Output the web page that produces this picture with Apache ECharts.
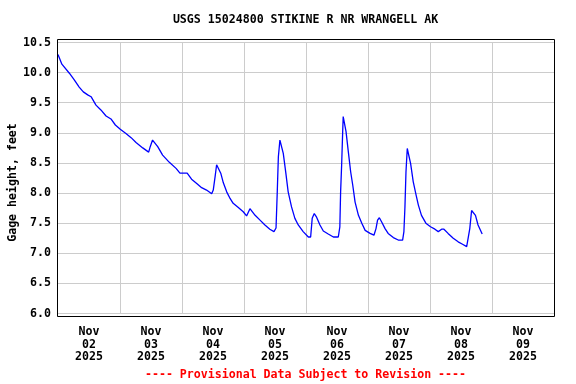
<!DOCTYPE html>
<html>
<head>
<meta charset="utf-8">
<script src="https://cdn.jsdelivr.net/npm/echarts@6/dist/echarts.min.js"></script>
<style>
html,body{margin:0;padding:0;background:#fff;}
#chart{width:576px;height:384px;}
</style>
</head>
<body>
<div id="chart"></div>
<script>
// Hours since 2025-11-02 00:00 (local)
var hours = [0,1.5,4.4,6.3,8.2,9.8,11.5,12.8,14.7,16.6,18.6,20.5,22.2,24.1,26.3,28.3,30.2,32.8,35.1,35.7,36.6,37.2,38.6,40.5,43.1,45.7,47.2,50.0,51.7,53.7,55.6,57.5,59.5,60.1,60.8,61.4,62.0,63.0,64.0,65.3,66.6,67.8,69.8,71.7,73.0,74.3,75.0,76.3,78.2,80.1,82.0,83.6,84.4,84.9,85.3,85.9,86.4,87.2,88.2,89.1,90.4,91.7,93.0,94.9,96.9,97.8,98.4,99.2,100.1,101.4,102.7,104.6,106.6,108.5,109.1,109.4,109.8,110.2,110.4,110.9,111.5,112.4,113.3,114.1,115.0,116.3,117.6,118.9,120.8,122.3,123.1,123.7,124.4,125.3,126.6,127.8,129.8,131.7,133.4,133.9,134.3,134.7,135.2,135.7,136.5,137.5,138.6,139.5,140.7,142.4,144.2,145.9,147.2,148.5,149.4,151.0,153.0,154.9,156.6,158.2,158.8,159.4,160.1,160.7,161.6,162.6,164.2];
var gageHeight = [10.30,10.14,9.99,9.88,9.76,9.68,9.63,9.60,9.46,9.38,9.28,9.23,9.13,9.06,8.99,8.92,8.84,8.75,8.68,8.77,8.88,8.88,8.77,8.63,8.51,8.41,8.33,8.33,8.23,8.16,8.09,8.05,7.99,8.05,8.27,8.47,8.46,8.33,8.17,8.02,7.91,7.83,7.76,7.69,7.62,7.74,7.74,7.63,7.55,7.47,7.40,7.36,7.42,8.05,8.60,8.88,8.89,8.66,8.33,8.02,7.77,7.58,7.47,7.36,7.27,7.27,7.58,7.66,7.60,7.47,7.37,7.32,7.27,7.27,7.44,8.02,8.47,9.02,9.27,9.25,9.02,8.68,8.35,8.13,7.85,7.63,7.50,7.38,7.33,7.30,7.41,7.55,7.59,7.52,7.41,7.33,7.26,7.22,7.22,7.36,7.77,8.35,8.74,8.72,8.49,8.19,7.97,7.80,7.63,7.50,7.44,7.40,7.36,7.40,7.40,7.33,7.25,7.19,7.15,7.11,7.14,7.41,7.71,7.74,7.63,7.47,7.32];
var dayLabels = ['Nov\n02\n2025','Nov\n03\n2025','Nov\n04\n2025','Nov\n05\n2025','Nov\n06\n2025','Nov\n07\n2025','Nov\n08\n2025','Nov\n09\n2025'];
var titleText = 'USGS 15024800 STIKINE R NR WRANGELL AK';
var yName = 'Gage height, feet';
var footerText = '---- Provisional Data Subject to Revision ----';

var FONT = '"DejaVu Sans Mono", "Liberation Mono", monospace';
var chart = echarts.init(document.getElementById('chart'));
chart.setOption({
  animation: false,
  backgroundColor: '#ffffff',
  grid: [
    {left: 58, right: 22, top: 42.5, bottom: 70.5, show: false},
    {left: 57.5, right: 21.5, top: 39.5, bottom: 67.5, show: true, borderColor: '#000', borderWidth: 1, backgroundColor: 'transparent', z: 5}
  ],
  xAxis: [
    {type: 'value', gridIndex: 0, min: 0, max: 192, interval: 24,
     axisLine: {show: false}, axisTick: {show: false}, axisLabel: {show: false},
     splitLine: {show: true, showMinLine: false, showMaxLine: false, lineStyle: {color: '#cccccc', width: 1}}},
    {type: 'category', gridIndex: 0, data: dayLabels, boundaryGap: true, position: 'bottom',
     axisLine: {show: false}, axisTick: {show: false}, splitLine: {show: false},
     axisLabel: {margin: 12, color: '#000', fontFamily: FONT, fontWeight: 'bold', fontSize: 11.6, lineHeight: 12.7, interval: 0}},
    {type: 'value', gridIndex: 1, show: false, min: 0, max: 1}
  ],
  yAxis: [
    {type: 'value', gridIndex: 0, min: 6, max: 10.5, interval: 0.5,
     axisLine: {show: false}, axisTick: {show: false},
     axisLabel: {margin: 7, color: '#000', fontFamily: FONT, fontWeight: 'bold', fontSize: 11.6,
       formatter: function (v) { return v.toFixed(1); }},
     splitLine: {show: true, lineStyle: {color: '#cccccc', width: 1}}},
    {type: 'value', gridIndex: 1, show: false, min: 0, max: 1}
  ],
  graphic: [
    {type: 'text', x: 305.5, y: 20, style: {text: titleText, align: 'center', verticalAlign: 'middle', fill: '#000', font: 'bold 11.6px ' + FONT}},
    {type: 'text', x: 13, y: 182.5, rotation: Math.PI / 2, style: {text: yName, align: 'center', verticalAlign: 'middle', fill: '#000', font: 'bold 11.6px ' + FONT}},
    {type: 'text', x: 305.5, y: 375, style: {text: footerText, align: 'center', verticalAlign: 'middle', fill: '#ff0000', font: 'bold 11.6px ' + FONT}}
  ],
  series: [{
    type: 'line', xAxisIndex: 0, yAxisIndex: 0, showSymbol: false, symbol: 'none',
    data: hours.map(function (h, i) { return [h, gageHeight[i]]; }),
    lineStyle: {color: '#0000ff', width: 1.3}
  }]
});
</script>
</body>
</html>
